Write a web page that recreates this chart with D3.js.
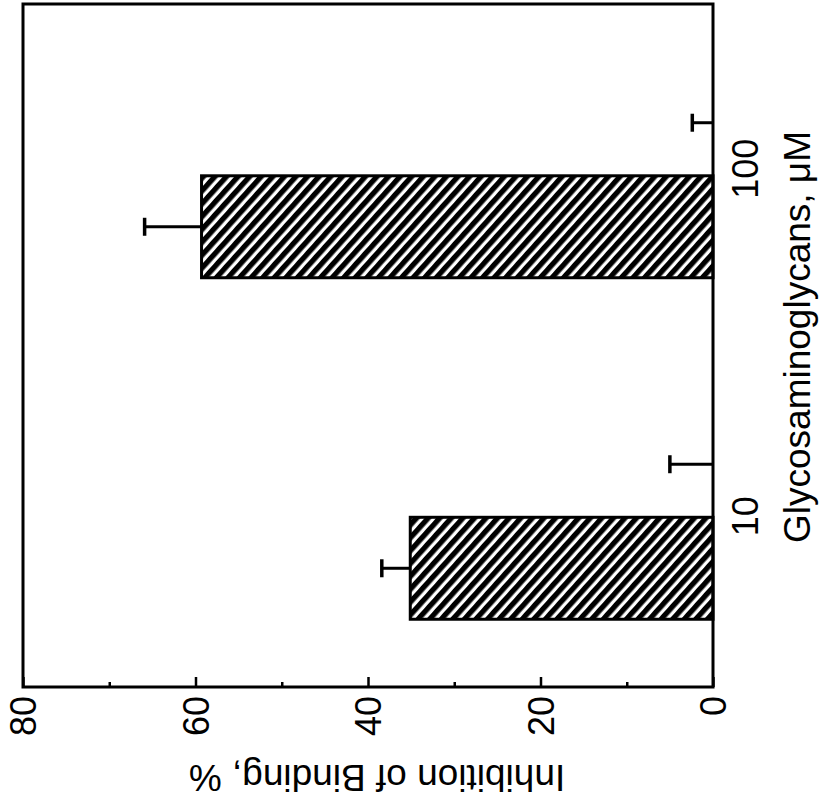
<!DOCTYPE html>
<html>
<head>
<meta charset="utf-8">
<script src="https://cdn.jsdelivr.net/npm/d3@7"></script>
<style>
  html, body { margin: 0; padding: 0; background: #fff; }
  svg { display: block; }
  text { font-family: "Liberation Sans", Arial, Helvetica, sans-serif; fill: #000; }
</style>
</head>
<body>
<script>
// ---- data ----
const categories = ["10", "100"];
const seriesNames = ["Glycosaminoglycan", "Control"];
const hatchedValues = [35.1, 59.3];
const hatchedErrors = [3.3, 6.6];
const openValues = [0, 0];
const openErrors = [5.0, 2.4];
const majorTicks = [0, 20, 40, 60, 80];
const minorTicks = [10, 30, 50, 70];
const valueTitle = "Inhibition of Binding, %";
const categoryTitle = "Glycosaminoglycans, \u03BCM";

// ---- layout ----
const W = 821, H = 802;
const plot = { left: 23, right: 713, top: 4, bottom: 687 };

const svg = d3.select("body").append("svg")
  .attr("width", W).attr("height", H);

const defs = svg.append("defs");
const pat = defs.append("pattern")
  .attr("id", "hatch")
  .attr("patternUnits", "userSpaceOnUse")
  .attr("width", 8.6).attr("height", 8.6)
  .attr("patternTransform", "rotate(42)");
pat.append("rect").attr("width", 8.6).attr("height", 8.6).attr("fill", "#fff");
pat.append("rect").attr("width", 5.3).attr("height", 8.6).attr("fill", "#000");

const x = d3.scaleLinear().domain([0, 80]).range([plot.right, plot.left]);
const y = d3.scalePoint().domain(categories).range([plot.bottom, plot.top]).padding(0.5);
const sub = d3.scaleBand().domain(seriesNames).range([103, -103]).paddingInner(0.02);

const rows = [];
categories.forEach((c, i) => {
  rows.push({ cat: c, s: seriesNames[0], v: hatchedValues[i], e: hatchedErrors[i], hatched: true });
  rows.push({ cat: c, s: seriesNames[1], v: openValues[i], e: openErrors[i], hatched: false });
});
const mid = d => y(d.cat) + sub(d.s) + sub.bandwidth() / 2;

// bars
svg.append("g").selectAll("rect").data(rows).join("rect")
  .attr("x", d => x(d.v))
  .attr("y", d => y(d.cat) + sub(d.s))
  .attr("width", d => x(0) - x(d.v))
  .attr("height", sub.bandwidth())
  .attr("fill", d => d.hatched ? "url(#hatch)" : "none")
  .attr("stroke", d => d.hatched ? "#000" : "none")
  .attr("stroke-width", 3);

// error bars
const eg = svg.append("g").attr("stroke", "#000");
eg.selectAll("line.err").data(rows).join("line")
  .attr("class", "err")
  .attr("x1", d => x(d.v)).attr("x2", d => x(d.v + d.e))
  .attr("y1", mid).attr("y2", mid)
  .attr("stroke-width", 3);
eg.selectAll("line.cap").data(rows).join("line")
  .attr("class", "cap")
  .attr("x1", d => x(d.v + d.e)).attr("x2", d => x(d.v + d.e))
  .attr("y1", d => mid(d) - 9)
  .attr("y2", d => mid(d) + 9)
  .attr("stroke-width", 3.5);

// value axis (bottom)
const axG = svg.append("g").attr("transform", `translate(0,${plot.bottom})`)
  .call(d3.axisBottom(x).tickValues(majorTicks).tickSizeInner(-10).tickSizeOuter(0).tickPadding(9));
axG.select(".domain").remove();
axG.selectAll(".tick line").attr("stroke", "#000").attr("stroke-width", 2.5);
axG.selectAll(".tick text")
  .attr("x", 0).attr("y", 0).attr("dy", "0.35em")
  .attr("transform", "translate(0,9) rotate(-90)")
  .attr("text-anchor", "end")
  .style("font-size", "36px");

const minG = svg.append("g").attr("transform", `translate(0,${plot.bottom})`)
  .call(d3.axisBottom(x).tickValues(minorTicks).tickSizeInner(-5).tickSizeOuter(0).tickFormat(""));
minG.select(".domain").remove();
minG.selectAll(".tick line").attr("stroke", "#000").attr("stroke-width", 2.5);

// category labels (right side)
svg.append("g").selectAll("text").data(categories).join("text")
  .attr("transform", d => `translate(758,${y(d) - (d === "100" ? 6 : 0)}) rotate(-90)`)
  .attr("text-anchor", "middle")
  .style("font-size", "36px")
  .text(d => d);

// axis titles
svg.append("text")
  .attr("transform", "translate(810,337) rotate(-90)")
  .attr("text-anchor", "middle")
  .style("font-size", "37px")
  .text(categoryTitle);

svg.append("text")
  .attr("transform", "translate(377,765) rotate(180)")
  .attr("text-anchor", "middle")
  .style("font-size", "37px")
  .text(valueTitle);

// frame
svg.append("rect")
  .attr("x", plot.left).attr("y", plot.top)
  .attr("width", plot.right - plot.left).attr("height", plot.bottom - plot.top)
  .attr("fill", "none").attr("stroke", "#000").attr("stroke-width", 3);
</script>
</body>
</html>
